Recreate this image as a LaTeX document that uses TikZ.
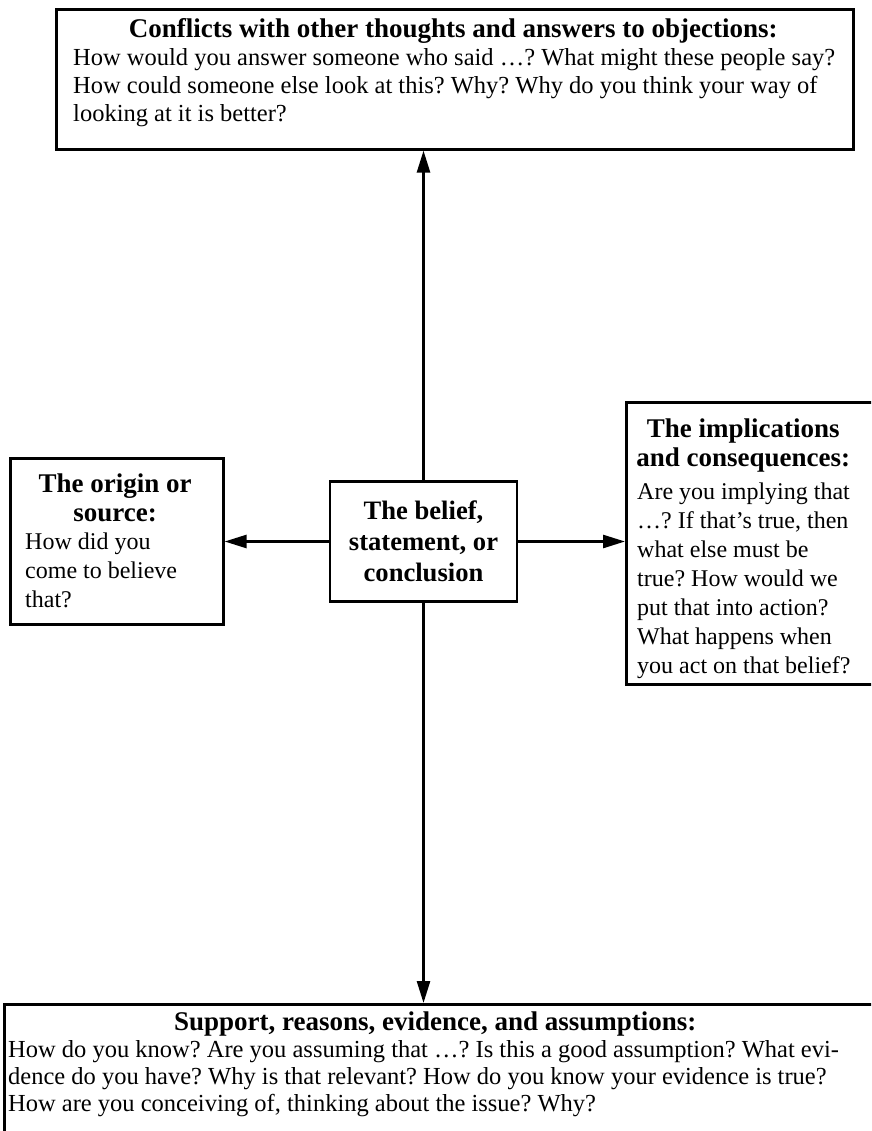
\documentclass[tikz,border=0pt]{standalone}
\usepackage{fontspec}
\setmainfont{Liberation Serif}
\usepackage{tikz}
\usetikzlibrary{arrows.meta,positioning}

\newcommand{\headline}[2]{\makebox[#1][c]{\fontsize{27pt}{29pt}\selectfont\bfseries #2}}

\tikzset{
  box/.style={draw, line width=2.6pt, rectangle, inner sep=0pt},
  txt/.style={inner sep=0pt, align=left, font=\frenchspacing\fontsize{24.5pt}{28pt}\selectfont},
  arr/.style={line width=2.6pt, -{Triangle[length=22pt,width=13pt]}}
}

\begin{document}
\begin{tikzpicture}[x=1pt,y=1pt]
\clip (0,0) rectangle (871,-1131);
\fill[white] (0,0) rectangle (871,-1131);

% boxes
\node[box, anchor=north west, minimum width=797pt, minimum height=140pt] (conflicts) at (55,-8) {};
\node[box, anchor=north west, minimum width=213pt, minimum height=166pt] (origin) at (9,-457) {};
\node[box, anchor=north west, minimum width=260pt, minimum height=282pt] (implications) at (625,-401) {};
\node[box, anchor=north west, minimum width=880pt, minimum height=160pt] (support) at (3,-1003) {};
\node[box, minimum width=187pt, minimum height=120pt, align=center,
  font=\fontsize{26.6pt}{31pt}\selectfont\bfseries] (belief) at (423.5,-541.5)
  {The belief,\\statement, or\\conclusion};

% texts
\node[txt, anchor=north west] (conflictstxt) at (73,-18)
  {\headline{760pt}{Conflicts with other thoughts and answers to objections:}\\
   How would you answer someone who said \ldots? What might these people say?\\
   How could someone else look at this? Why? Why do you think your way of\\
   looking at it is better?};
\node[txt, anchor=north west, font=\frenchspacing\fontsize{24pt}{29pt}\selectfont] (origintxt) at (25,-474)
  {\headline{180pt}{The origin or}\\
   \headline{180pt}{source:}\\[-1pt]
   How did you\\come to believe\\that?};
\node[txt, anchor=north west, font=\frenchspacing\fontsize{24pt}{29pt}\selectfont] (implicationstxt) at (637,-419)
  {\headline{212pt}{The implications}\\
   \headline{212pt}{and consequences:}\\[4pt]
   Are you implying that\\
   \ldots? If that's true, then\\
   what else must be\\
   true? How would we\\
   put that into action?\\
   What happens when\\
   you act on that belief?};
\node[txt, anchor=north west, font=\frenchspacing\fontsize{24.5pt}{27pt}\selectfont] (supporttxt) at (8,-1012)
  {\headline{854pt}{Support, reasons, evidence, and assumptions:}\\
   How do you know? Are you assuming that \ldots? Is this a good assumption? What evi-\\
   dence do you have? Why is that relevant? How do you know your evidence is true?\\
   How are you conceiving of, thinking about the issue? Why?};

% connectors
\draw[arr] (belief.north) -- (belief.north |- conflicts.south);
\draw[arr] (belief.south) -- (belief.south |- support.north);
\draw[arr] (belief.west) -- (belief.west -| origin.east);
\draw[arr] (belief.east) -- (belief.east -| implications.west);

\end{tikzpicture}
\end{document}
